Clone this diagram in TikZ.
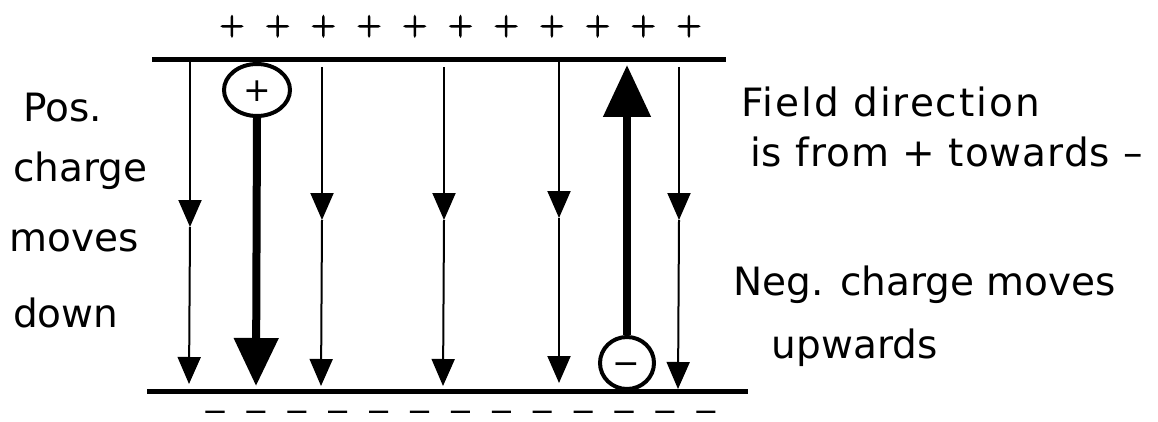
\documentclass[tikz,border=0pt]{standalone}
\usepackage{fontspec}
\setmainfont{DejaVu Sans}
\newfontfamily\plusfont[FakeBold=4]{Latin Modern Roman}
\newfontfamily\dashfont[FakeBold=5]{DejaVu Sans}
\usetikzlibrary{arrows.meta,shapes.geometric}
\begin{document}
\begin{tikzpicture}[x=1pt,y=-1pt,
  plate/.style={line width=5pt},
  fieldline/.style={line width=2pt},
  thinhead/.style={-{Triangle[width=23pt,length=27pt]}},
  thick arrow/.style={line width=8pt},
  chargering/.style={draw,ellipse,line width=4pt,inner sep=0pt},
  txt/.style={anchor=base west,inner sep=0pt,font=\fontsize{39}{47}\selectfont},
  platesign/.style={anchor=base,inner sep=0pt,font=\plusfont\fontsize{33}{33}\selectfont},
  minussign/.style={anchor=base,inner sep=0pt,font=\dashfont\fontsize{20}{20}\selectfont},
  ringsign/.style={anchor=base,inner sep=0pt,font=\fontsize{33}{33}\selectfont}]
\useasboundingbox (0,0) rectangle (1158,422);

% plates
\coordinate (TL) at (152,60); \coordinate (TR) at (726,60);
\coordinate (BL) at (147,391); \coordinate (BR) at (748,391);
\draw[plate] (TL) -- (TR);
\draw[plate] (BL) -- (BR);

% plate charges
\foreach \i in {0,...,10} {
  \node[platesign] (p\i) at ({232+45.7*\i},34.5) {+};
}
\foreach \i in {0,...,12} {
  \node[minussign] (n\i) at ({215+40.9*\i},417.2) {—};
}

% field lines
\coordinate (t1) at (190,62);  \coordinate (m1) at (190,227); \coordinate (b1) at (189,384);
\coordinate (t2) at (322,67);  \coordinate (m2) at (322,220); \coordinate (b2) at (321,386);
\coordinate (t3) at (444,67);  \coordinate (m3) at (444,220); \coordinate (b3) at (443,386);
\coordinate (t4) at (559,62);  \coordinate (m4) at (559,218); \coordinate (b4) at (559,383);
\coordinate (t5) at (679,67);  \coordinate (m5) at (679,220); \coordinate (b5) at (678,389);
\foreach \k in {1,...,5} {
  \draw[fieldline,thinhead] (t\k) -- (m\k);
  \draw[fieldline,thinhead] (m\k) -- (b\k);
}

% positive charge
\node[chargering,minimum width=66pt,minimum height=52pt] (qp) at (257,90) {};
\node[ringsign] (qps) at (257,102) {+};
\coordinate (pd) at (256,386);
\draw[thick arrow,-{Triangle[width=43pt,length=48pt]}] (qp.south) -- (pd);

% negative charge
\node[chargering,minimum width=54pt,minimum height=52pt] (qn) at (627,363) {};
\node[ringsign] (qns) at (626,374) {−};
\coordinate (nu) at (627,65);
\draw[thick arrow,-{Triangle[width=46pt,length=52pt]}] (qn.north) -- (nu);

% texts
\node[txt] (l1) at (23,122) {Pos.};
\node[txt] (l2) at (13,182) {charge};
\node[txt] (l3) at (9.5,251) {moves};
\node[txt] (l4) at (13,327) {down};
\node[txt,font=\fontsize{39}{47}\selectfont\addfontfeature{LetterSpace=5}] (r1) at (741,117) {Field direction};
\node[txt,font=\fontsize{39}{47}\selectfont\addfontfeature{LetterSpace=2.5}] (r2) at (750,167) {is from + towards –};
\node[txt] (r3) at (733,295) {Neg. charge moves};
\node[txt] (r4) at (771.5,358) {upwards};
\end{tikzpicture}
\end{document}
